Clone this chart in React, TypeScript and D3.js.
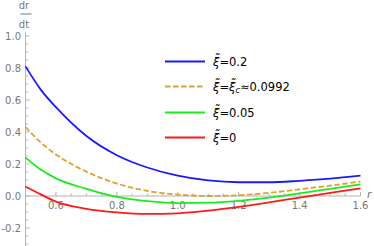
import * as d3 from 'd3';
import React from 'react';

const rValues = [0.5, 0.55, 0.6, 0.7, 0.8, 0.9, 1.0, 1.1, 1.2, 1.3, 1.4, 1.5, 1.6];
const blueXi02 = [0.81, 0.665, 0.555, 0.375, 0.255, 0.178, 0.127, 0.097, 0.086, 0.086, 0.095, 0.108, 0.127];
const orangeXiC = [0.43, 0.335, 0.26, 0.152, 0.078, 0.032, 0.009, 0.0, 0.005, 0.02, 0.042, 0.065, 0.09];
const greenXi005 = [0.24, 0.165, 0.11, 0.045, -0.006, -0.032, -0.044, -0.042, -0.03, -0.01, 0.017, 0.045, 0.073];
const redXi0 = [0.06, 0.01, -0.035, -0.08, -0.102, -0.112, -0.108, -0.092, -0.068, -0.04, -0.01, 0.019, 0.048];

const xTicks = [0.6, 0.8, 1.0, 1.2, 1.4, 1.6];
const yTicks = [-0.2, 0.0, 0.2, 0.4, 0.6, 0.8, 1.0];

const series = [
  { name: 'xi02', values: blueXi02, color: '#1a1aff', dash: null },
  { name: 'xic', values: orangeXiC, color: '#e0a033', dash: '5.5,2.5' },
  { name: 'xi005', values: greenXi005, color: '#1aeb1a', dash: null },
  { name: 'xi0', values: redXi0, color: '#ff1a1a', dash: null },
];

const axisColor = '#b3b3b3';
const labelColor = '#777777';
const font = 'DejaVu Sans, sans-serif';

function Xi() {
  return <tspan fontStyle="italic">{'ξ\u0303'}</tspan>;
}

export default function App() {
  const W = 374, H = 246;
  const x = d3.scaleLinear().domain([0.5, 1.6]).range([25.5, 360.5]);
  const y = d3.scaleLinear().domain([0, 1]).range([196, 36]);

  const line = d3.line<number>()
    .x((_, i) => x(rValues[i]))
    .y(d => y(d))
    .curve(d3.curveMonotoneX);

  const xMinor = d3.range(0.5, 1.6001, 0.05).filter(v => !xTicks.some(t => Math.abs(t - v) < 1e-6));
  const yMinor = d3.range(-0.3, 1.0001, 0.05).filter(v => !yTicks.some(t => Math.abs(t - v) < 1e-6));

  const legendY = [61.5, 86.5, 112.5, 137.5];

  return (
    <svg width={W} height={H} style={{ position: 'absolute', left: 0, top: 0 }} fontFamily={font}>
      {/* axes */}
      <line x1={x(0.5)} x2={x(0.5)} y1={y(1.02)} y2={H} stroke={axisColor} />
      <line x1={x(0.5)} x2={x(1.6)} y1={y(0)} y2={y(0)} stroke={axisColor} />
      {yTicks.map(t => (
        <g key={'y' + t}>
          <line x1={x(0.5)} x2={x(0.5) + 4} y1={y(t)} y2={y(t)} stroke={axisColor} />
          <text x={21} y={y(t) + 3.5} textAnchor="end" fontSize={10} fill={labelColor}>
            {d3.format('.1f')(t).replace('−', '-')}
          </text>
        </g>
      ))}
      {yMinor.map(t => (
        <line key={'ym' + t} x1={x(0.5)} x2={x(0.5) + 2.5} y1={y(t)} y2={y(t)} stroke={axisColor} />
      ))}
      {xTicks.map(t => (
        <g key={'x' + t}>
          <line x1={x(t)} x2={x(t)} y1={y(0)} y2={y(0) - 4} stroke={axisColor} />
          <text x={x(t)} y={209} textAnchor="middle" fontSize={10} fill={labelColor}>
            {d3.format('.1f')(t)}
          </text>
        </g>
      ))}
      {xMinor.map(t => (
        <line key={'xm' + t} x1={x(t)} x2={x(t)} y1={y(0)} y2={y(0) - 2.5} stroke={axisColor} />
      ))}

      {/* axis labels */}
      <text x={24} y={9} textAnchor="middle" fontSize={10} fill={labelColor}>dr</text>
      <line x1={20.5} x2={31.5} y1={14} y2={14} stroke={labelColor} />
      <text x={24} y={28} textAnchor="middle" fontSize={10} fill={labelColor}>dt</text>
      <text x={367} y={198} fontSize={11} fontStyle="italic" fill={labelColor}>r</text>

      {/* curves */}
      {series.map(s => (
        <path key={s.name} d={line(s.values) || ''} fill="none" stroke={s.color}
          strokeWidth={1.8} strokeDasharray={s.dash || undefined} />
      ))}

      {/* legend */}
      {series.map((s, i) => (
        <line key={'lg' + i} x1={165} x2={205} y1={legendY[i]} y2={legendY[i]}
          stroke={s.color} strokeWidth={1.8} strokeDasharray={s.dash || undefined} />
      ))}
      <text x={213} y={legendY[0] + 4} fontSize={11.5} fill="#000">
        <Xi />=0.2
      </text>
      <text x={213} y={legendY[1] + 4} fontSize={11.5} fill="#000">
        <Xi />=<Xi /><tspan fontStyle="italic" fontSize={8} dy={2.5}>c</tspan><tspan dy={-2.5}>≈0.0992</tspan>
      </text>
      <text x={213} y={legendY[2] + 4} fontSize={11.5} fill="#000">
        <Xi />=0.05
      </text>
      <text x={213} y={legendY[3] + 4} fontSize={11.5} fill="#000">
        <Xi />=0
      </text>
    </svg>
  );
}
